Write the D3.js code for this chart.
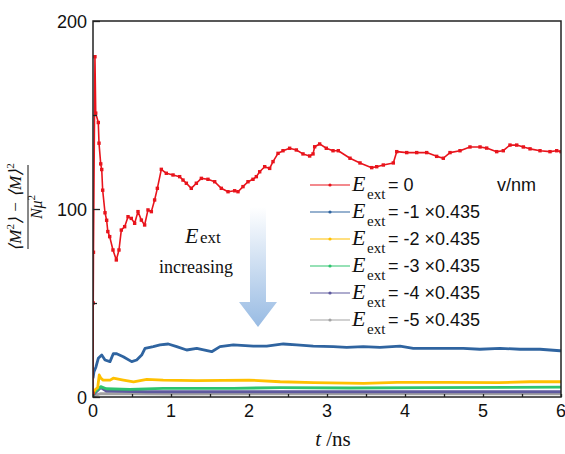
<!DOCTYPE html>
<html lang="en">
<head>
  <meta charset="UTF-8">
  <title>Magnetization fluctuation vs time</title>
  <script src="https://d3js.org/d3.v7.min.js"></script>
  <style>
    body { margin: 0; background: #fff; }
    .tick-label { font-family: "Liberation Sans", Arial, sans-serif; font-size: 18px; fill: #111; }
    .serif { font-family: "Liberation Serif", "Times New Roman", serif; fill: #111; }
    .sans { font-family: "Liberation Sans", Arial, sans-serif; fill: #111; }
  </style>
</head>
<body>
  <div id="chart"></div>
  <script>
    // ---- data ----
    const redT = [0, 0.003, 0.006, 0.025, 0.035, 0.068, 0.077, 0.099, 0.112, 0.124, 0.154, 0.175, 0.19,
      0.214, 0.256, 0.299, 0.333, 0.363, 0.406, 0.449, 0.491, 0.534, 0.577, 0.62, 0.662, 0.705, 0.748, 0.79, 0.825,
      0.876, 0.94, 1.026, 1.111, 1.154, 1.197, 1.26, 1.325, 1.389, 1.474, 1.56, 1.645, 1.731, 1.816, 1.859, 1.923,
      1.987, 2.051, 2.094, 2.137, 2.201, 2.265, 2.308, 2.372, 2.436, 2.521, 2.607, 2.692, 2.778, 2.821, 2.842, 2.906,
      2.991, 3.077, 3.145, 3.295, 3.423, 3.573, 3.637, 3.722, 3.85,
      3.894, 4.022, 4.15, 4.278, 4.406, 4.491, 4.577, 4.705, 4.833, 4.962, 5.047, 5.175, 5.26, 5.346, 5.432, 5.517, 5.603,
      5.731, 5.859, 5.945, 6.0];
    const redV = [2, 50, 77, 181, 151, 146, 135, 124, 121, 110, 98, 94, 88,
      85.3, 78.2, 72.9, 78.2, 88.8, 90.6, 95.9, 95, 92.4, 98.6, 94.1, 91.5, 99.5, 98.6, 104.8, 111,
      121.1, 119, 118.1, 117.2, 115.4, 113.7, 111, 113.7, 116.3, 115.8, 114.5, 111, 109.2, 109.7, 109.2, 111.9,
      114.5, 115.8, 117.2, 119.8, 122.5, 121.6, 125.2, 129.6, 131, 132.3, 131.4, 129.3, 128.2, 129.3, 133.1, 134.6,
      132.3, 131, 131, 127, 124.5, 122, 122.5, 123.4, 124.5,
      130.5, 130, 130, 130, 128, 127, 130, 131, 133, 133, 132.4, 130.5, 131, 134, 134, 133, 132,
      131, 130.5, 131, 130.5];

    const blueT = [0, 0.013, 0.038, 0.068, 0.112, 0.154, 0.218, 0.26, 0.304, 0.388, 0.496, 0.56, 0.624, 0.667, 0.773, 0.859,
      0.965, 1.073, 1.201, 1.33, 1.522, 1.628, 1.799, 2.055, 2.227, 2.44, 2.61, 2.824, 3.081, 3.253, 3.465, 3.68, 3.936,
      4.106, 4.32, 4.535, 4.747, 4.96, 5.218, 5.474, 5.731, 5.987, 6.0];
    const blueV = [10, 13.5, 16, 20.6, 22.3, 19.7, 18.8, 23, 23, 21.4, 18.8, 19.7, 22.3, 25.9, 26.8, 27.7,
      28.2, 26.8, 25, 25.9, 24.1, 26.8, 27.7, 27.1, 27.1, 28.2, 27.7, 27.1, 26.8, 26.4, 26.8, 26.4, 27.1,
      25.9, 25.9, 25.9, 25.9, 25.4, 25.9, 25.4, 25.4, 24.6, 24.6];

    const yellowT = [0, 0.03, 0.06, 0.08, 0.1, 0.13, 0.22, 0.26, 0.39, 0.52, 0.69, 0.9, 1.33, 2.0, 2.4, 2.83, 3.47, 3.9, 4.53, 5.2, 5.6, 6.0];
    const yellowV = [2, 4, 5, 11.7, 10, 9, 9, 10, 9, 8.1, 9.4, 9, 8.7, 9, 8.1, 7.6, 7.3, 7.8, 7.8, 7.6, 8.1, 8.1];

    const greenT = [0, 0.03, 0.1, 0.17, 0.47, 0.9, 1.8, 2.4, 3.3, 4.3, 6.0];
    const greenV = [1, 3, 5.5, 4.4, 4.1, 4.6, 4.6, 5, 4.8, 5, 5.2];

    const purpleT = [0, 0.05, 0.1, 0.17, 0.7, 2.0, 4.0, 6.0];
    const purpleV = [1, 3, 5, 3.2, 2.8, 2.8, 2.8, 2.8];

    const grayT = [0, 0.1, 1.0, 3.0, 6.0];
    const grayV = [0.5, 1.8, 1.6, 1.7, 1.7];

    const seriesNames = ["0", "-1", "-2", "-3", "-4", "-5"];
    const seriesColors = ["#e8141c", "#2f64a0", "#ffc000", "#2ec46e", "#5f5a9e", "#a3a3a3"];
    const seriesData = [[redT, redV], [blueT, blueV], [yellowT, yellowV], [greenT, greenV], [purpleT, purpleV], [grayT, grayV]];

    const xTicks = [0, 1, 2, 3, 4, 5, 6];
    const xMinorTicks = [0.5, 1.5, 2.5, 3.5, 4.5, 5.5];
    const yTicks = [0, 100, 200];
    const yMinorTicks = [50, 150];

    // ---- layout ----
    const W = 565, H = 454;
    const pLeft = 93, pRight = 561, pTop = 21, pBottom = 397;

    const svg = d3.select("#chart").append("svg")
      .attr("width", W).attr("height", H);

    const x = d3.scaleLinear().domain([0, 6]).range([pLeft, pRight]);
    const y = d3.scaleLinear().domain([0, 200]).range([pBottom, pTop]);

    const defs = svg.append("defs");
    defs.append("clipPath").attr("id", "plot-clip")
      .append("rect").attr("x", pLeft).attr("y", pTop)
      .attr("width", pRight - pLeft).attr("height", pBottom - pTop);

    // arrow with gradient
    const grad = defs.append("linearGradient")
      .attr("id", "arrowGrad").attr("x1", 0).attr("y1", 0).attr("x2", 0).attr("y2", 1);
    grad.append("stop").attr("offset", "0%").attr("stop-color", "#ffffff");
    grad.append("stop").attr("offset", "100%").attr("stop-color", "#98bbe3");
    const ax = 258;
    svg.append("path")
      .attr("d", `M${ax - 8},207 L${ax + 8},207 L${ax + 8},302 L${ax + 19},302 L${ax},327 L${ax - 19},302 L${ax - 8},302 Z`)
      .attr("fill", "url(#arrowGrad)");

    svg.append("text").attr("class", "serif").attr("x", 185).attr("y", 243)
      .style("font-size", "22px").style("font-style", "italic").text("E");
    svg.append("text").attr("class", "serif").attr("x", 200).attr("y", 243)
      .style("font-size", "17px").text("ext");
    svg.append("text").attr("class", "serif").attr("x", 196).attr("y", 273)
      .attr("text-anchor", "middle").style("font-size", "18px").text("increasing");

    // series lines (draw last series first so red sits on top)
    const line = d3.line().x(d => x(d[0])).y(d => y(d[1]));
    const plot = svg.append("g").attr("clip-path", "url(#plot-clip)");
    for (let i = seriesData.length - 1; i >= 0; i--) {
      const [ts, vs] = seriesData[i];
      const pts = ts.map((t, k) => [t, vs[k]]);
      plot.append("path").datum(pts)
        .attr("fill", "none")
        .attr("stroke", seriesColors[i])
        .attr("stroke-width", i === 0 ? 1.6 : 2.8)
        .attr("stroke-linejoin", "round")
        .attr("d", line);
      if (i === 0) {
        plot.selectAll(".red-pt").data(pts).enter().append("rect")
          .attr("x", d => x(d[0]) - 1.7).attr("y", d => y(d[1]) - 1.7)
          .attr("width", 3.4).attr("height", 3.4)
          .attr("fill", seriesColors[0]);
      }
    }

    // frame
    svg.append("rect").attr("x", pLeft).attr("y", pTop)
      .attr("width", pRight - pLeft).attr("height", pBottom - pTop)
      .attr("fill", "none").attr("stroke", "#222").attr("stroke-width", 1.5);

    // x ticks
    svg.append("g").attr("transform", `translate(0,${pBottom})`)
      .call(d3.axisBottom(x).tickValues(xTicks.concat(xMinorTicks)).tickSize(-3).tickFormat(""))
      .call(g => g.select(".domain").remove())
      .call(g => g.selectAll("line").attr("stroke", "#222").attr("stroke-width", 1.3));
    svg.append("g").selectAll("text").data(xTicks).enter().append("text")
      .attr("class", "tick-label").attr("x", d => x(d)).attr("y", 416.5)
      .attr("text-anchor", "middle").text(d => d);

    // y ticks
    svg.append("g").attr("transform", `translate(${pLeft},0)`)
      .call(d3.axisLeft(y).tickValues(yTicks).tickSize(-7).tickFormat(""))
      .call(g => g.select(".domain").remove())
      .call(g => g.selectAll("line").attr("stroke", "#222").attr("stroke-width", 1.3));
    svg.append("g").attr("transform", `translate(${pLeft},0)`)
      .call(d3.axisLeft(y).tickValues(yMinorTicks).tickSize(-4).tickFormat(""))
      .call(g => g.select(".domain").remove())
      .call(g => g.selectAll("line").attr("stroke", "#222").attr("stroke-width", 1.3));
    svg.append("g").selectAll("text").data(yTicks).enter().append("text")
      .attr("class", "tick-label").attr("x", 87).attr("y", d => y(d) + 6.5)
      .attr("text-anchor", "end").text(d => d);

    // x axis title
    const xt = svg.append("text").attr("class", "serif").attr("x", 333).attr("y", 446)
      .attr("text-anchor", "middle").style("font-size", "21px");
    xt.append("tspan").style("font-style", "italic").text("t");
    xt.append("tspan").text(" /ns");

    // y axis title: fraction
    const yl = svg.append("g").attr("transform", "translate(0,207) rotate(-90)");
    const num = yl.append("text").attr("class", "serif").attr("x", 0).attr("y", 21)
      .attr("text-anchor", "middle").style("font-size", "17px").style("font-style", "italic");
    num.append("tspan").text("\u27E8M");
    num.append("tspan").attr("dy", -7).style("font-size", "11px").style("font-style", "normal").text("2");
    num.append("tspan").attr("dy", 7).text("\u27E9 \u2212 \u27E8M\u27E9");
    num.append("tspan").attr("dy", -7).style("font-size", "11px").style("font-style", "normal").text("2");
    yl.append("line").attr("x1", -42).attr("x2", 42).attr("y1", 28).attr("y2", 28)
      .attr("stroke", "#111").attr("stroke-width", 1);
    const den = yl.append("text").attr("class", "serif").attr("x", 0).attr("y", 42)
      .attr("text-anchor", "middle").style("font-size", "16px").style("font-style", "italic");
    den.append("tspan").text("N\u03BC");
    den.append("tspan").attr("dy", -7).style("font-size", "11px").style("font-style", "normal").text("2");

    // legend
    const legY0 = 185, legStep = 27;
    seriesNames.forEach((name, i) => {
      const ly = legY0 + i * legStep;
      svg.append("line").attr("x1", 310).attr("x2", 350).attr("y1", ly).attr("y2", ly)
        .attr("stroke", seriesColors[i]).attr("stroke-width", 1.2);
      svg.append("circle").attr("cx", 330).attr("cy", ly).attr("r", 1.6).attr("fill", seriesColors[i]);
      svg.append("text").attr("class", "serif").attr("x", 352).attr("y", ly + 6)
        .style("font-size", "22px").style("font-style", "italic").text("E");
      svg.append("text").attr("class", "serif").attr("x", 367).attr("y", ly + 14)
        .style("font-size", "15px").text("ext");
      svg.append("text").attr("class", "sans").attr("x", 388).attr("y", ly + 6)
        .style("font-size", "18px")
        .text(i === 0 ? "= 0" : `= ${name} \u00D70.435`);
      if (i === 0) {
        svg.append("text").attr("class", "sans").attr("x", 497).attr("y", ly + 6)
          .style("font-size", "18px").text("v/nm");
      }
    });
  </script>
</body>
</html>
